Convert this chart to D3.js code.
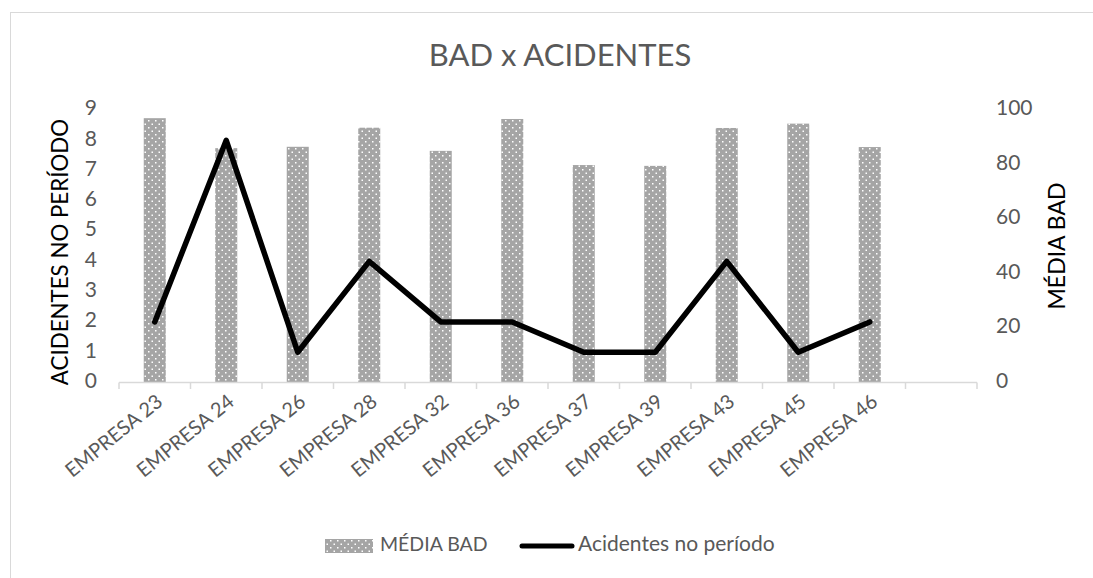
<!DOCTYPE html>
<html>
<head>
<meta charset="utf-8">
<script src="https://cdn.jsdelivr.net/npm/d3@7"></script>
<style>
body{margin:0;background:#fff;}
text{font-family:Lato,"Open Sans",sans-serif;}
</style>
</head>
<body>
<script>
var empresas = ["EMPRESA 23","EMPRESA 24","EMPRESA 26","EMPRESA 28","EMPRESA 32","EMPRESA 36","EMPRESA 37","EMPRESA 39","EMPRESA 43","EMPRESA 45","EMPRESA 46"];
var mediaBad = [97,86,86.5,93.5,85,96.7,79.8,79.5,93.4,95,86.4];
var acidentes = [2,8,1,4,2,2,1,1,4,1,2];
var leftTicks = [0,1,2,3,4,5,6,7,8,9];
var rightTicks = [0,20,40,60,80,100];

var svg = d3.select("body").append("svg").attr("width",1093).attr("height",578);

var defs = svg.append("defs");
var pat = defs.append("pattern").attr("id","dots").attr("patternUnits","userSpaceOnUse")
      .attr("width",7).attr("height",7);
pat.append("rect").attr("width",7).attr("height",7).attr("fill","#a5a5a5");
pat.append("rect").attr("x",1).attr("y",1).attr("width",1.5).attr("height",1.5).attr("fill","#fff");
pat.append("rect").attr("x",4.5).attr("y",4.5).attr("width",1.5).attr("height",1.5).attr("fill","#fff");

// chart frame
svg.append("rect").attr("x",10.5).attr("y",12.5).attr("width",1100).attr("height",600)
      .attr("fill","none").attr("stroke","#d9d9d9").attr("stroke-width",1);

var cats = empresas.concat([""]);
var x = d3.scaleBand().domain(cats).range([119,977]);
var yL = d3.scaleLinear().domain([0,9]).range([382.5,110]);
var yR = d3.scaleLinear().domain([0,100]).range([382.5,110]);

// bars
svg.selectAll("rect.bar")
      .data(empresas)
      .enter().append("rect")
      .attr("class","bar")
      .attr("x",function(d){return x(d)+x.bandwidth()/2-11;})
      .attr("width",22)
      .attr("y",function(d,i){return yR(mediaBad[i]);})
      .attr("height",function(d,i){return yR(0)-yR(mediaBad[i]);})
      .attr("fill","url(#dots)");

// x axis
svg.append("line").attr("x1",119).attr("x2",977).attr("y1",382.5).attr("y2",382.5)
      .attr("stroke","#d9d9d9").attr("stroke-width",1.5);
svg.selectAll("line.tick")
      .data(cats.concat(["end"]))
      .enter().append("line")
      .attr("class","tick")
      .attr("x1",function(d,i){return 119+i*x.step();})
      .attr("x2",function(d,i){return 119+i*x.step();})
      .attr("y1",382.5).attr("y2",389)
      .attr("stroke","#d9d9d9").attr("stroke-width",1.5);

svg.selectAll("text.xlab")
      .data(empresas)
      .enter().append("text")
      .attr("class","xlab")
      .attr("transform",function(d){return "translate("+(x(d)+x.bandwidth()/2+6)+",400) rotate(-39)";})
      .attr("text-anchor","end")
      .attr("dominant-baseline","middle")
      .attr("font-size",20)
      .attr("fill","#595959")
      .text(function(d){return d;});

// left ticks
svg.selectAll("text.yl")
      .data(leftTicks)
      .enter().append("text")
      .attr("class","yl")
      .attr("x",97).attr("y",function(d){return yL(d);})
      .attr("text-anchor","end").attr("dominant-baseline","middle")
      .attr("font-size",21).attr("fill","#595959")
      .text(function(d){return d;});

// right ticks
svg.selectAll("text.yr")
      .data(rightTicks)
      .enter().append("text")
      .attr("class","yr")
      .attr("x",996).attr("y",function(d){return yR(d);})
      .attr("text-anchor","start").attr("dominant-baseline","middle")
      .attr("font-size",21).attr("fill","#595959")
      .text(function(d){return d;});

// line
var line = d3.line()
      .x(function(d,i){return x(empresas[i])+x.bandwidth()/2;})
      .y(function(d){return yL(d);});
svg.append("path").datum(acidentes).attr("d",line)
      .attr("fill","none").attr("stroke","#000").attr("stroke-width",5.5)
      .attr("stroke-linejoin","round").attr("stroke-linecap","round");

// titles
svg.append("text").text("BAD x ACIDENTES")
      .attr("x",560).attr("y",58)
      .attr("text-anchor","middle").attr("dominant-baseline","middle")
      .attr("font-size",31).attr("fill","#595959");

svg.append("text").text("ACIDENTES NO PERÍODO")
      .attr("transform","translate(62,252) rotate(-90)")
      .attr("text-anchor","middle").attr("dominant-baseline","middle")
      .attr("font-size",22.3).attr("fill","#000");

svg.append("text").text("MÉDIA BAD")
      .attr("transform","translate(1059,246) rotate(-90)")
      .attr("text-anchor","middle").attr("dominant-baseline","middle")
      .attr("font-size",23).attr("fill","#000");

// legend
svg.append("rect").attr("x",325).attr("y",539).attr("width",48).attr("height",14).attr("fill","url(#dots)");
svg.append("text").text("MÉDIA BAD").attr("x",380).attr("y",546)
      .attr("dominant-baseline","middle").attr("font-size",19.5).attr("fill","#595959");
svg.append("line").attr("x1",522).attr("x2",572).attr("y1",546).attr("y2",546)
      .attr("stroke","#000").attr("stroke-width",5).attr("stroke-linecap","round");
svg.append("text").text("Acidentes no período").attr("x",578).attr("y",546)
      .attr("dominant-baseline","middle").attr("font-size",21).attr("fill","#595959");
</script>
</body>
</html>
